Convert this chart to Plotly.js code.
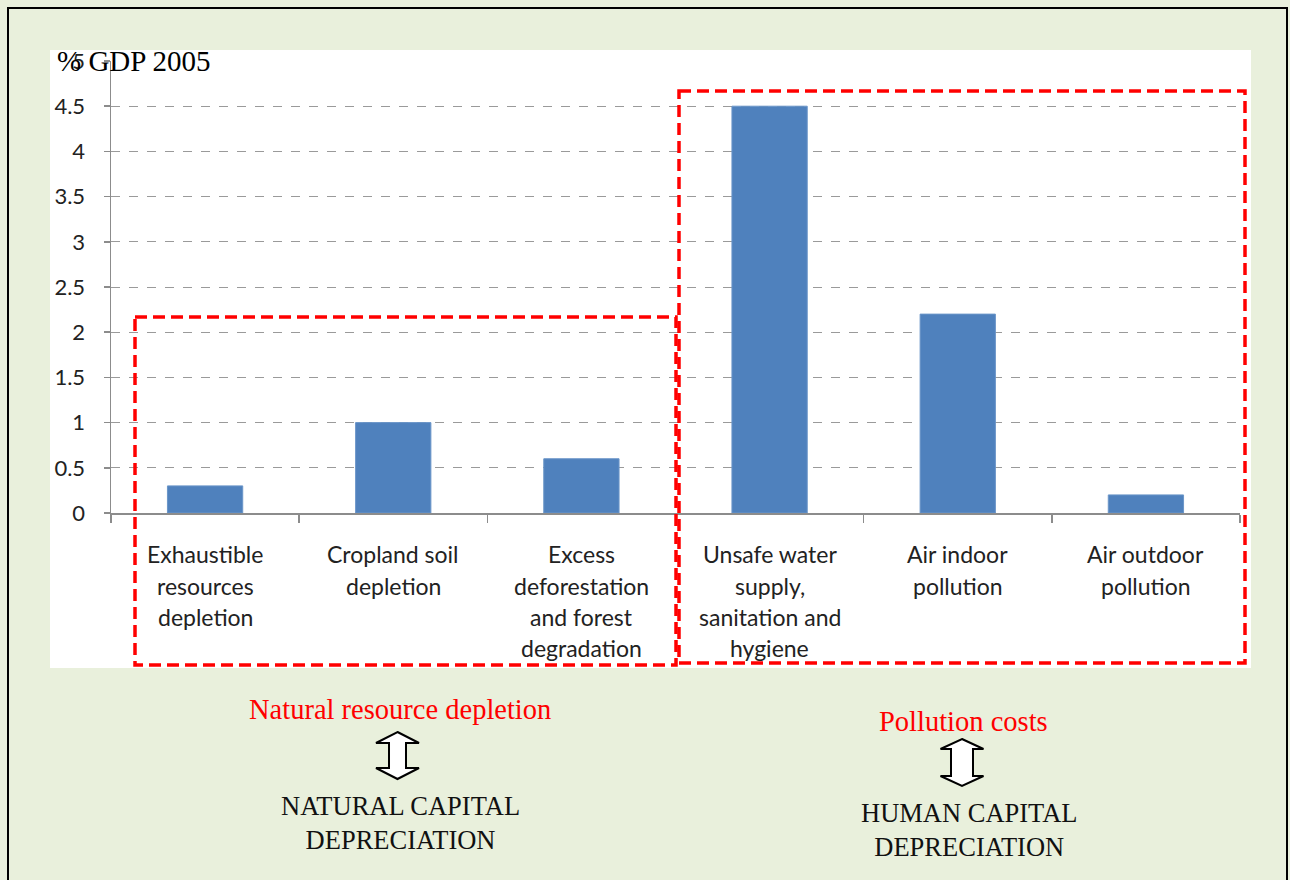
<!DOCTYPE html>
<html>
<head>
<meta charset="utf-8">
<script src="https://cdn.plot.ly/plotly-3.0.1.min.js"></script>
<style>html,body{margin:0;padding:0;background:#e9f0dc;}#chart{width:1290px;height:880px;}</style>
</head>
<body>
<div id="chart"></div>
<script>
// ---- data ----
const categories = [
  "Exhaustible<br>resources<br>depletion",
  "Cropland soil<br>depletion",
  "Excess<br>deforestation<br>and forest<br>degradation",
  "Unsafe water<br>supply,<br>sanitation and<br>hygiene",
  "Air indoor<br>pollution",
  "Air outdoor<br>pollution"
];
const values = [0.3, 1.0, 0.6, 4.5, 2.2, 0.2];
const yTickVals = [0, 0.5, 1, 1.5, 2, 2.5, 3, 3.5, 4, 4.5, 5];
const yTitle = "% GDP 2005";
const groupLabels = ["Natural resource depletion", "Pollution costs"];
const groupCapital = ["NATURAL CAPITAL<br>DEPRECIATION", "HUMAN CAPITAL<br>DEPRECIATION"];

// ---- layout helpers (pixel -> paper) ----
const W = 1290, H = 880;
const L = 111, R = 1240, T = 61, B = 513;
const px = x => (x - L) / (R - L);
const py = y => (B - y) / (B - T);

const shapes = [];
// outer border
shapes.push({type:'rect', xref:'paper', yref:'paper', x0:px(8), x1:px(1287), y0:py(8), y1:py(884),
  line:{color:'#000', width:2}, fillcolor:'rgba(0,0,0,0)', layer:'below'});
// white chart area
shapes.push({type:'rect', xref:'paper', yref:'paper', x0:px(50), x1:px(1251), y0:py(50), y1:py(668),
  line:{width:0}, fillcolor:'#ffffff', layer:'below'});
// red dashed group boxes
shapes.push({type:'rect', xref:'paper', yref:'paper', x0:px(135), x1:px(676), y0:py(317), y1:py(665),
  line:{color:'#ff0000', width:3.5, dash:'12px,6px'}, fillcolor:'rgba(0,0,0,0)'});
shapes.push({type:'rect', xref:'paper', yref:'paper', x0:px(679), x1:px(1245), y0:py(91), y1:py(663),
  line:{color:'#ff0000', width:3.5, dash:'12px,6px'}, fillcolor:'rgba(0,0,0,0)'});

// double arrows
function dblArrow(cx, top, bot, headW, shaftW, headH){
  const p = [
    [cx, top], [cx+headW/2, top+headH], [cx+shaftW/2, top+headH],
    [cx+shaftW/2, bot-headH], [cx+headW/2, bot-headH], [cx, bot],
    [cx-headW/2, bot-headH], [cx-shaftW/2, bot-headH], [cx-shaftW/2, top+headH],
    [cx-headW/2, top+headH]
  ];
  return 'M ' + p.map(q => px(q[0]).toFixed(5) + ',' + py(q[1]).toFixed(5)).join(' L ') + ' Z';
}
shapes.push({type:'path', xref:'paper', yref:'paper', path:dblArrow(397.5, 732, 779, 43, 17, 11),
  line:{color:'#000', width:2}, fillcolor:'#ffffff'});
shapes.push({type:'path', xref:'paper', yref:'paper', path:dblArrow(962, 739, 786, 43, 22, 10),
  line:{color:'#000', width:2}, fillcolor:'#ffffff'});

const annotations = [];
// y title
annotations.push({xref:'paper', yref:'paper', x:px(55), y:py(61), xanchor:'left', yanchor:'middle',
  text:yTitle, showarrow:false, font:{family:'Liberation Serif, serif', size:29, color:'#000'}});
// category labels, line by line
const lineY = [554, 586, 617, 648];
categories.forEach((c, i) => {
  c.split('<br>').forEach((ln, j) => {
    annotations.push({xref:'x', yref:'paper', x:i, y:py(lineY[j]), xanchor:'center', yanchor:'middle',
      text:ln, showarrow:false, font:{family:'Lato, Carlito, sans-serif', size:23, color:'#222'}});
  });
});
// group labels
const gx = [400, 963];
const gLabelY = [709, 721];
const gCapY = [823, 830];
groupLabels.forEach((g, i) => {
  annotations.push({xref:'paper', yref:'paper', x:px(gx[i]), y:py(gLabelY[i]), xanchor:'center', yanchor:'middle',
    text:g, showarrow:false, font:{family:'Liberation Serif, serif', size:28.5, color:'#ff0000'}});
});
groupCapital.forEach((g, i) => {
  annotations.push({xref:'paper', yref:'paper', x:px([400, 969][i]), y:py(gCapY[i]), xanchor:'center', yanchor:'middle',
    text:g, showarrow:false, font:{family:'Liberation Serif, serif', size:26.5, color:'#111'}});
});

const trace = {
  type:'bar',
  x:categories.map((c, i) => i),
  y:values,
  marker:{color:'#4f81bd', line:{color:'#6a95c8', width:1}},
  hoverinfo:'y'
};

const layout = {
  width:W, height:H,
  margin:{l:L, r:W-R, t:T, b:H-B, pad:0},
  paper_bgcolor:'#e9f0dc',
  plot_bgcolor:'rgba(0,0,0,0)',
  showlegend:false,
  bargap:0.6,
  xaxis:{
    type:'linear', range:[-0.5, 5.5], tickmode:'array',
    tickvals:[-0.5, 0.5, 1.5, 2.5, 3.5, 4.5, 5.5],
    showticklabels:false, showgrid:false, zeroline:false,
    showline:true, linecolor:'#8c8c8c', linewidth:1.5,
    ticks:'outside', ticklen:8, tickcolor:'#8c8c8c', tickwidth:1.5
  },
  yaxis:{
    range:[0, 5], tickmode:'array', tickvals:yTickVals,
    ticktext:yTickVals.map(v => String(v)),
    showgrid:true, gridcolor:'#9a9a9a', griddash:'dash', gridwidth:1,
    zeroline:false, showline:true, linecolor:'#8c8c8c', linewidth:1.5,
    ticks:'outside', ticklen:6, tickcolor:'#8c8c8c', tickwidth:1.5,
    tickfont:{family:'Lato, Carlito, sans-serif', size:22, color:'#222'},
    ticklabelstandoff:14
  },
  shapes:shapes,
  annotations:annotations
};

Plotly.newPlot('chart', [trace], layout, {displayModeBar:false, staticPlot:true});
</script>
</body>
</html>
